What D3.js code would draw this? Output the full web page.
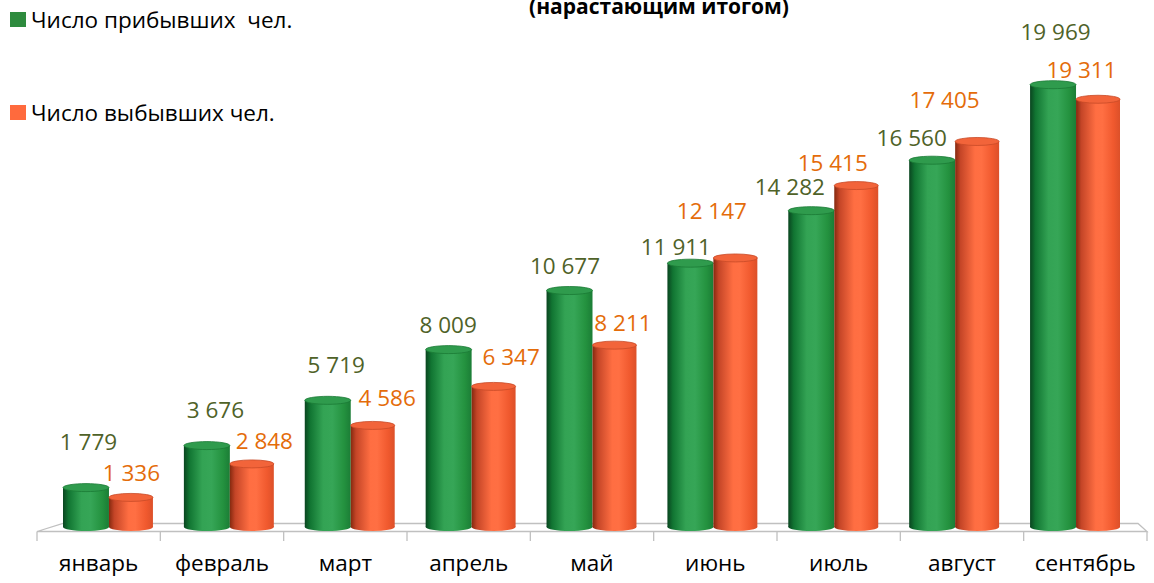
<!DOCTYPE html>
<html><head><meta charset="utf-8">
<script src="https://cdn.jsdelivr.net/npm/d3@7"></script>
<style>
html,body{margin:0;padding:0;background:#fff;}
svg{display:block;font-family:"Open Sans",sans-serif;}
</style></head>
<body><svg id="chart" width="1154" height="583"></svg>
<script>
// ---- data ----
const months = ["январь","февраль","март","апрель","май","июнь","июль","август","сентябрь"];
const arrived = [1779, 3676, 5719, 8009, 10677, 11911, 14282, 16560, 19969];
const departed = [1336, 2848, 4586, 6347, 8211, 12147, 15415, 17405, 19311];
const seriesNames = ["Число прибывших  чел.", "Число выбывших чел."];
const titleText = "(нарастающим итогом)";
// label nudges [dx, gap above bar top] as placed in the original
const arrivedLabelNudge = [[3,38],[9,28],[9,27],[0,17],[-4,17],[-14,8],[-21,16],[-20,14],[3,45]];
const departedLabelNudge = [[1,16],[13,15],[15,19],[18,21],[9,14],[-23,39],[-23,15],[-32,33],[-16,21]];

const svg = d3.select("#chart");
const fmt = v => d3.format(",")(v).replace(/,/g, " ");

const y = d3.scaleLinear().domain([0, 20000]).range([527, 84]);
const xAxis = d3.scaleBand().domain(months).range([37, 1147]).padding(0);
const xBars = d3.scaleBand().domain(months).range([63, 1120]).paddingInner(0.256).paddingOuter(0);
const xSub = d3.scaleBand().domain([0,1]).range([0, xBars.bandwidth()]);

// gradients
const defs = svg.append("defs");
function grad(id, stops){
  const g = defs.append("linearGradient").attr("id", id).attr("x1","0").attr("x2","1").attr("y1","0").attr("y2","0");
  stops.forEach(s => g.append("stop").attr("offset", s[0]).attr("stop-color", s[1]));
}
grad("gGreen", [[0,"#0a4520"],[0.12,"#117532"],[0.4,"#33a354"],[0.6,"#36a657"],[0.85,"#24923f"],[1,"#1b7d36"]]);
grad("gOrange", [[0,"#85290f"],[0.12,"#c44527"],[0.45,"#ff6e42"],[0.6,"#ff6f43"],[0.85,"#f0592e"],[1,"#dc5029"]]);

// floor
const floor = svg.append("g").attr("stroke","#c0c0c0").attr("stroke-width",1.3).attr("fill","none");
floor.append("path").attr("d", `M37,531.5 L63,523.5 L1138,523.5 L1147,531.5 L37,531.5`);
// axis ticks
floor.selectAll("line.tick").data(d3.range(months.length+1)).join("line")
  .attr("x1", i => i < months.length ? xAxis(months[i]) : xAxis.range()[1])
  .attr("x2", i => i < months.length ? xAxis(months[i]) : xAxis.range()[1])
  .attr("y1", 531.5).attr("y2", 541);

// bars as cylinders
const ry = 4;
const series = [
  {vals: arrived, fill: "url(#gGreen)", cap: "#2f9b4d", capStroke:"#1a7a35", label:"#4f6228", nudge: arrivedLabelNudge},
  {vals: departed, fill: "url(#gOrange)", cap: "#f2643a", capStroke:"#c84a27", label:"#e46c0a", nudge: departedLabelNudge}
];
series.forEach((s, si) => {
  const g = svg.append("g");
  months.forEach((m, i) => {
    const x0 = xBars(m) + xSub(si);
    const w = xSub.bandwidth() + (si===0 ? 1 : -1);
    const xx = si===0 ? x0 : x0 + 1;
    const top = y(s.vals[i]), base = y(0);
    const cx = xx + w/2;
    g.append("ellipse").attr("cx", cx).attr("cy", base).attr("rx", w/2).attr("ry", ry).attr("fill", s.fill);
    g.append("rect").attr("x", xx).attr("y", top).attr("width", w).attr("height", base - top).attr("fill", s.fill);
    g.append("ellipse").attr("cx", cx).attr("cy", top).attr("rx", w/2).attr("ry", ry)
      .attr("fill", s.cap).attr("stroke", s.capStroke).attr("stroke-width", 0.8);
  });
});

// value labels
series.forEach((s, si) => {
  svg.append("g").selectAll("text").data(s.vals).join("text")
    .attr("x", (v,i) => xBars(months[i]) + xSub(si) + xSub.bandwidth()/2 + s.nudge[i][0])
    .attr("y", (v,i) => y(v) - s.nudge[i][1])
    .attr("text-anchor","middle").attr("font-size", 22.5).attr("fill", s.label)
    .text(v => fmt(v));
});

// category labels
svg.append("g").selectAll("text").data(months).join("text")
  .attr("x", m => xAxis(m) + xAxis.bandwidth()/2).attr("y", 571)
  .attr("text-anchor","middle").attr("font-size", 22.5).attr("fill","#000")
  .text(m => m);

// legend
const legendColors = ["#2e8b3e", "#ff6a3d"];
const lg = svg.append("g");
seriesNames.forEach((n, i) => {
  const yy = i === 0 ? 12 : 105;
  lg.append("rect").attr("x", 10).attr("y", yy).attr("width", 16).attr("height", 15).attr("fill", legendColors[i]);
  lg.append("text").attr("x", 31).attr("y", yy + 15.5).attr("font-size", 22.5).attr("fill","#000")
    .style("white-space","pre").text(n);
});

// title (partially visible, as in the original)
svg.append("text").attr("x", 659).attr("y", 14).attr("text-anchor","middle")
  .attr("font-size", 21).attr("font-weight","bold").attr("fill","#000").text(titleText);
</script></body></html>
